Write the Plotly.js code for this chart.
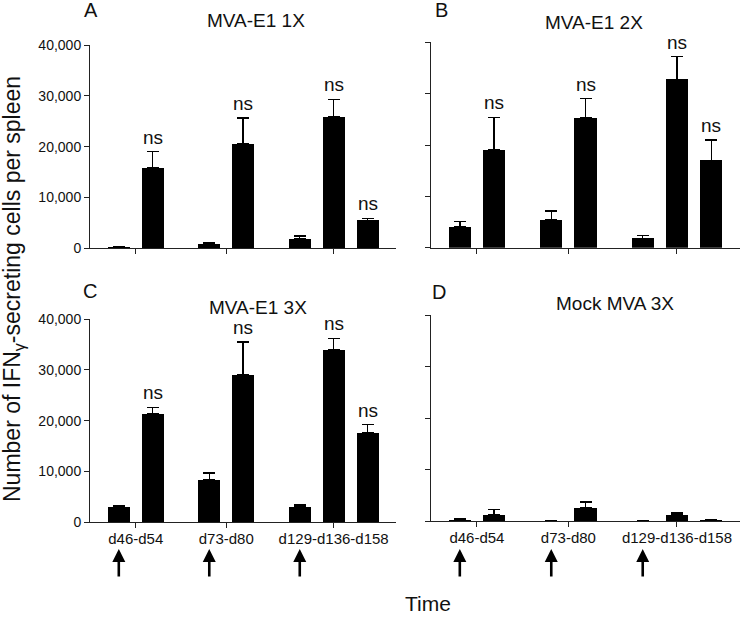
<!DOCTYPE html>
<html>
<head>
<meta charset="utf-8">
<script src="https://cdn.plot.ly/plotly-3.0.1.min.js"></script>
<style>html,body{margin:0;padding:0;background:#fff}#chart{width:742px;height:617px}</style>
</head>
<body>
<div id="chart"></div>
<script>
// ---- data ----
const barPositions = [1, 2, 3.67, 4.67, 6.34, 7.34, 8.34];
const groupTickPos = [1.5, 4.17, 7.34];
const groupLabels = ['d46-d54', 'd73-d80', 'd129-d136-d158'];
const vaccinationPos = [1, 3.67, 6.34];

const panelTitles = ['MVA-E1 1X', 'MVA-E1 2X', 'MVA-E1 3X', 'Mock MVA 3X'];
const panelLetters = ['A', 'B', 'C', 'D'];

const valsA = [200, 15800, 900, 20600, 1800, 25800, 5500];
const errA  = [150, 3200, 300, 5000, 600, 3500, 400];
const valsB = [4000, 19000, 5400, 25300, 1800, 32800, 17000];
const errB  = [1150, 6400, 1750, 3700, 600, 4400, 4000];
const valsC = [3000, 21400, 8400, 29000, 3000, 34000, 17600];
const errC  = [300, 1200, 1300, 6500, 400, 2200, 1600];
const valsD = [200, 1200, 80, 2500, 80, 1250, 260];
const errD  = [250, 1000, 50, 1200, 50, 320, 60];

const nsA = [false, true, false, true, false, true, true];
const nsB = [false, true, false, true, false, true, true];
const nsC = [false, true, false, true, false, true, true];
const nsD = [false, false, false, false, false, false, false];

const yTickVals = [0, 10000, 20000, 30000, 40000];

// ---- build ----
const W = 742, H = 617;
const FONT = 'Liberation Sans, Arial, sans-serif';
const panels = [
  {vals: valsA, err: errA, ns: nsA, xs: 'x',  ys: 'y',  xd: [90, 396],  yd: [45, 248.3],  labels: false, yl: true,  letter: [91, 10.3], title: [256, 20.5]},
  {vals: valsB, err: errB, ns: nsB, xs: 'x2', ys: 'y2', xd: [430.7, 740], yd: [42.3, 247.7], labels: false, yl: false, letter: [441, 10], title: [594, 23]},
  {vals: valsC, err: errC, ns: nsC, xs: 'x3', ys: 'y3', xd: [90, 396],  yd: [319, 522.3],  labels: true,  yl: true,  letter: [90, 290.5], title: [257.5, 307.5]},
  {vals: valsD, err: errD, ns: nsD, xs: 'x4', ys: 'y4', xd: [430.7, 740], yd: [315, 521],   labels: true,  yl: false, letter: [439, 291.7], title: [615, 303.3]}
];

const traces = [];
const annotations = [];
const layout = {
  width: W, height: H, autosize: false,
  margin: {l: 0, r: 0, t: 0, b: 0, pad: 0},
  paper_bgcolor: '#fff', plot_bgcolor: '#fff',
  showlegend: false,
  font: {family: FONT, color: '#111'},
  bargap: 0
};

panels.forEach((p, i) => {
  traces.push({
    type: 'bar', x: barPositions, y: p.vals, width: 0.65,
    xaxis: p.xs, yaxis: p.ys,
    marker: {color: '#000', line: {color: '#000', width: 0}},
    error_y: {type: 'data', array: p.err, arrayminus: p.err.map(() => 0), symmetric: false,
              color: '#000', thickness: 1.4, width: 6},
    hoverinfo: 'skip'
  });
  const suffix = i === 0 ? '' : String(i + 1);
  layout['xaxis' + suffix] = {
    domain: [p.xd[0] / W, p.xd[1] / W], range: [0.15, 9.18], anchor: p.ys,
    showgrid: false, zeroline: false, showline: true, linecolor: '#222', linewidth: 1,
    ticks: 'outside', ticklen: 5, tickwidth: 1, tickcolor: '#222',
    tickmode: 'array', tickvals: groupTickPos,
    ticktext: groupLabels,
    showticklabels: p.labels, ticklabelstandoff: -2,
    tickfont: {family: FONT, size: 15, color: '#111'}, fixedrange: true
  };
  layout['yaxis' + suffix] = {
    domain: [1 - p.yd[1] / H, 1 - p.yd[0] / H], range: [0, 40000], anchor: p.xs,
    showgrid: false, zeroline: false, showline: true, linecolor: '#222', linewidth: 1,
    ticks: 'outside', ticklen: 5, tickwidth: 1, tickcolor: '#222',
    tickmode: 'array', tickvals: yTickVals, tickformat: ',d',
    showticklabels: p.yl,
    tickfont: {family: FONT, size: 14, color: '#111'}, fixedrange: true
  };
  // panel letter
  annotations.push({xref: 'paper', yref: 'paper', x: p.letter[0] / W, y: 1 - p.letter[1] / H,
    xanchor: 'center', yanchor: 'middle', showarrow: false, text: panelLetters[i],
    font: {family: FONT, size: 20, color: '#111'}});
  // panel title
  annotations.push({xref: 'paper', yref: 'paper', x: p.title[0] / W, y: 1 - p.title[1] / H,
    xanchor: 'center', yanchor: 'middle', showarrow: false, text: panelTitles[i],
    font: {family: FONT, size: 19, color: '#111'}});
  // ns labels
  p.ns.forEach((flag, j) => {
    if (!flag) return;
    annotations.push({xref: p.xs, yref: p.ys, x: barPositions[j], y: p.vals[j] + p.err[j],
      xanchor: 'center', yanchor: 'bottom', yshift: 2, showarrow: false, text: 'ns',
      font: {family: FONT, size: 19, color: '#111'}});
  });
  // vaccination arrows
  if (p.labels) {
    vaccinationPos.forEach(v => {
      annotations.push({xref: p.xs, yref: 'paper', x: v, y: 1 - 549 / H,
        axref: 'pixel', ayref: 'pixel', ax: 0, ay: 29,
        showarrow: true, arrowhead: 2, arrowsize: 1, arrowwidth: 2.6, arrowcolor: '#000',
        text: ''});
    });
  }
});

// shared axis titles
annotations.push({xref: 'paper', yref: 'paper', x: 13 / W, y: 1 - 289 / H,
  xanchor: 'center', yanchor: 'middle', showarrow: false, textangle: -90,
  text: 'Number of IFN<sub>γ</sub>-secreting cells per spleen',
  font: {family: FONT, size: 23, color: '#111'}});
annotations.push({xref: 'paper', yref: 'paper', x: 428 / W, y: 1 - 603 / H,
  xanchor: 'center', yanchor: 'middle', showarrow: false, text: 'Time',
  font: {family: FONT, size: 21, color: '#111'}});

layout.annotations = annotations;

Plotly.newPlot('chart', traces, layout, {displayModeBar: false, staticPlot: true});
</script>
</body>
</html>
